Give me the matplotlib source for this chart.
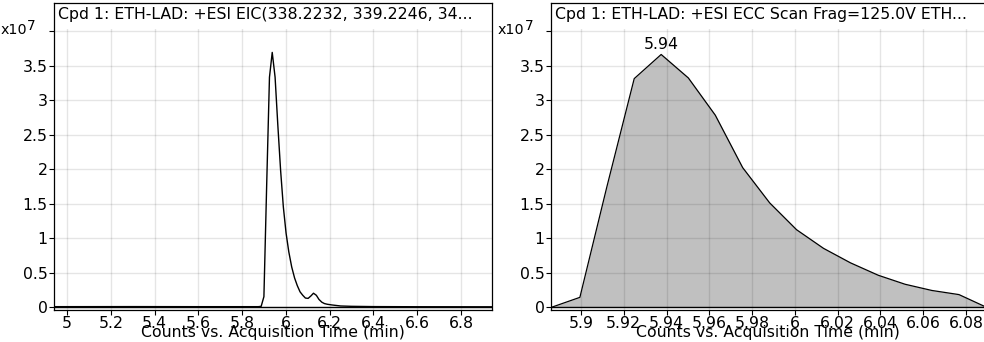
import matplotlib
matplotlib.use("Agg")
import matplotlib.pyplot as plt
from matplotlib.patches import Rectangle

# the reference text is wide for its height, DejaVu Sans comes closest
plt.rcParams['font.family'] = ['DejaVu Sans']

# EIC trace (left), counts in units of 1e7
eic_time = [4.94, 5.30, 5.60, 5.874, 5.887, 5.8995, 5.912, 5.9249, 5.9375, 5.9506,
            5.963, 5.9758, 5.9883, 6.0008, 6.0132, 6.0265, 6.0397, 6.052, 6.0646,
            6.077, 6.089, 6.1015, 6.114, 6.126, 6.139, 6.151, 6.164, 6.176, 6.189,
            6.21, 6.25, 6.30, 6.40, 6.60, 6.94]
eic_counts = [0.005, 0.006, 0.005, 0.005, 0.01, 0.15, 1.75, 3.33, 3.69, 3.33,
              2.64, 1.98, 1.45, 1.07, 0.80, 0.58, 0.42, 0.31, 0.22,
              0.17, 0.13, 0.125, 0.16, 0.20, 0.17, 0.11, 0.07, 0.05, 0.04,
              0.03, 0.015, 0.01, 0.006, 0.004, 0.003]

# ECC scan (right), counts in units of 1e7
ecc_time = [5.8866, 5.8995, 5.9121, 5.9249, 5.9375, 5.9502, 5.9628, 5.9756, 5.9882,
            6.0008, 6.0134, 6.026, 6.039, 6.0515, 6.064, 6.0767, 6.0893]
ecc_counts = [0.0, 0.14, 1.74, 3.31, 3.66, 3.32, 2.78, 2.02, 1.51,
              1.12, 0.85, 0.64, 0.46, 0.33, 0.24, 0.18, 0.0]

peak_label = "5.94"
left_title = "Cpd 1: ETH-LAD: +ESI EIC(338.2232, 339.2246, 34..."
right_title = "Cpd 1: ETH-LAD: +ESI ECC Scan Frag=125.0V ETH..."
x_label = "Counts vs. Acquisition Time (min)"

y_ticks = [0, 0.5, 1, 1.5, 2, 2.5, 3, 3.5, 4]
y_tick_labels = ["0", "0.5", "1", "1.5", "2", "2.5", "3", "3.5", ""]
left_x_ticks = [5, 5.2, 5.4, 5.6, 5.8, 6, 6.2, 6.4, 6.6, 6.8]
left_x_labels = ["5", "5.2", "5.4", "5.6", "5.8", "6", "6.2", "6.4", "6.6", "6.8"]
right_x_ticks = [5.9, 5.92, 5.94, 5.96, 5.98, 6.0, 6.02, 6.04, 6.06, 6.08]
right_x_labels = ["5.9", "5.92", "5.94", "5.96", "5.98", "6", "6.02", "6.04", "6.06", "6.08"]

FS = 11.3
W, H = 984, 342

fig = plt.figure(figsize=(W / 100, H / 100), dpi=100)
ax_l = fig.add_axes([54 / W, 1 - 309.5 / H, (491.5 - 54) / W, 306.5 / H])
ax_r = fig.add_axes([551 / W, 1 - 309.5 / H, (W - 551) / W, 306.5 / H])


def style_axes(ax, title, xticks, xlabels, xlim):
    ax.set_xlim(*xlim)
    ax.set_ylim(-0.036, 4.406)
    ax.set_xticks(xticks)
    ax.set_xticklabels(xlabels)
    ax.set_yticks(y_ticks)
    ax.set_yticklabels(y_tick_labels)
    ax.tick_params(axis='both', direction='out', length=3.5, width=0.8,
                   pad=1, labelsize=FS, colors='black')
    ax.grid(True, color='black', alpha=0.1, lw=1)
    ax.set_axisbelow(False)
    ax.axhline(0, color='black', lw=1, zorder=4)
    for s in ax.spines.values():
        s.set_linewidth(0.9)
        s.set_zorder(6)
    # white title box over the top of the plot area
    ax.add_patch(Rectangle((0, 0.916), 1, 0.084, transform=ax.transAxes,
                           facecolor='white', edgecolor='none', zorder=5))
    ax.text(0.01, 0.962, title, transform=ax.transAxes, ha='left', va='center',
            fontsize=FS, zorder=7)
    ax.text(0.5, -0.075, x_label, transform=ax.transAxes, ha='center',
            va='center', fontsize=FS)
    # exponent label at the top tick
    ax.annotate("x10", xy=(0, 4.0), xycoords=('axes fraction', 'data'),
                xytext=(-27 * 0.72, 0.5), textcoords='offset points',
                ha='right', va='center', fontsize=FS - 1, annotation_clip=False)
    ax.annotate("7", xy=(0, 4.0), xycoords=('axes fraction', 'data'),
                xytext=(-18 * 0.72, 3.5), textcoords='offset points',
                ha='right', va='center', fontsize=FS - 1.5, annotation_clip=False)


style_axes(ax_l, left_title, left_x_ticks, left_x_labels, (4.9406, 6.9392))
ax_l.plot(eic_time, eic_counts, color='black', lw=1, zorder=3)

style_axes(ax_r, right_title, right_x_ticks, right_x_labels, (5.886, 6.0884))
ax_r.spines['right'].set_visible(False)
ax_r.fill_between(ecc_time, ecc_counts, 0, color='#c0c0c0', lw=0, zorder=1)
ax_r.plot(ecc_time, ecc_counts, color='black', lw=0.9, zorder=3)
i_peak = ecc_counts.index(max(ecc_counts))
ax_r.annotate(peak_label, xy=(ecc_time[i_peak], ecc_counts[i_peak]),
              xytext=(0, 2), textcoords='offset points', ha='center',
              va='bottom', fontsize=FS)

fig.savefig("out.png", dpi=100)
